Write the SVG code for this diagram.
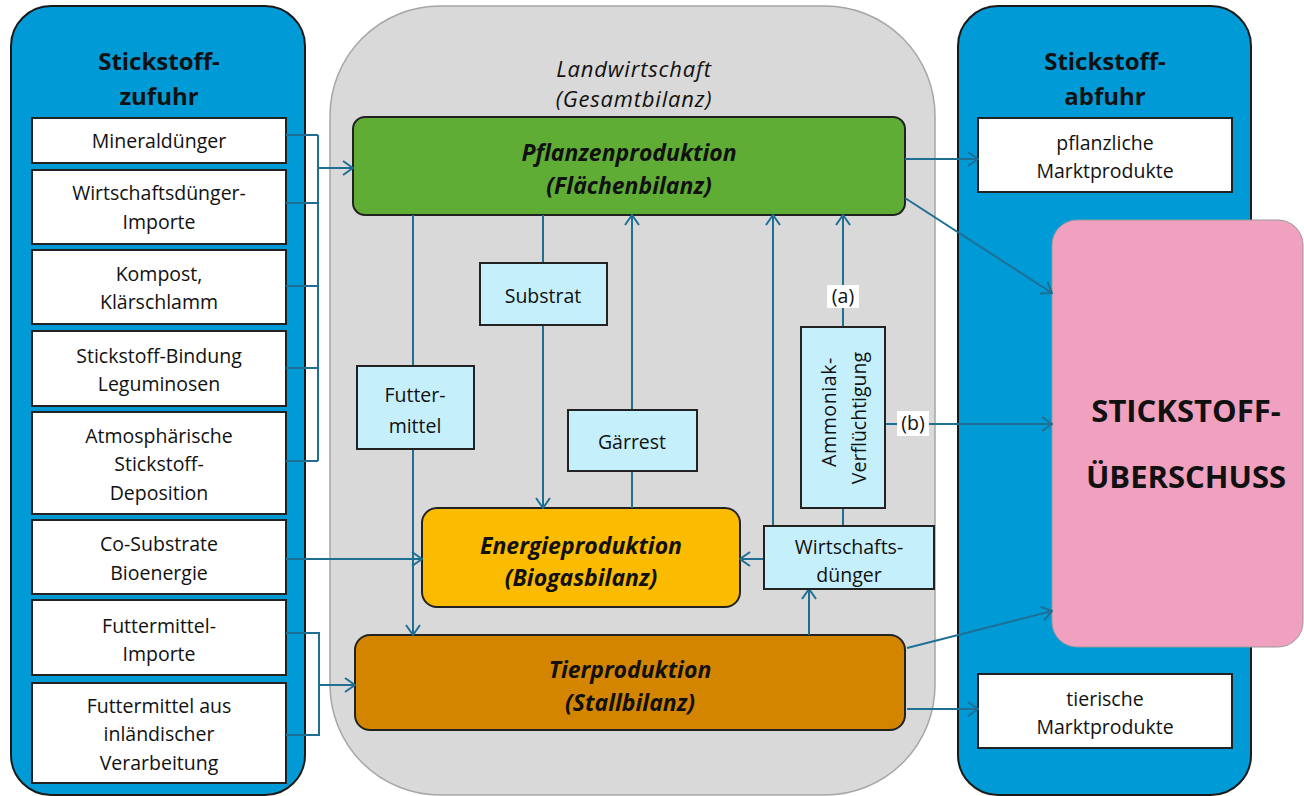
<svg xmlns="http://www.w3.org/2000/svg" width="1304" height="796" viewBox="0 0 1304 796">
<defs>
<marker id="ah" viewBox="0 0 12 16" refX="11" refY="8" markerWidth="12" markerHeight="16" markerUnits="userSpaceOnUse" orient="auto">
<path d="M1,1 L11,8 L1,15" fill="none" stroke="#1f6f95" stroke-width="2"/>
</marker>
<style>
text{font-family:"Open Sans","Noto Sans",sans-serif;fill:#111;text-anchor:middle}
.t{font-size:19.5px}
.h{font-size:24px;font-weight:bold}
.bi{font-size:23px;font-weight:bold;font-style:italic}
.it{font-size:22px;font-style:italic;letter-spacing:0.8px}
.big{font-size:31px;font-weight:bold}
.panel{fill:#009bd6;stroke:#1a1a1a;stroke-width:2}
.wb{fill:#fff;stroke:#222;stroke-width:2}
.lb{fill:#c6effc;stroke:#222;stroke-width:2}
.lbl{fill:#fff;stroke:none}
.c{fill:none;stroke:#1f6f95;stroke-width:2}
.ca{fill:none;stroke:#1f6f95;stroke-width:2;marker-end:url(#ah)}
</style>
</defs>
<rect width="1304" height="796" fill="#fff"/>

<g id="zufuhr">
<rect class="panel" x="11" y="6" width="294" height="789" rx="40"/>
<text class="h" x="159" y="70">Stickstoff-</text>
<text class="h" x="159" y="105">zufuhr</text>
</g>
<g id="abfuhr">
<rect class="panel" x="958" y="6" width="293" height="789" rx="40"/>
<text class="h" x="1105" y="70">Stickstoff-</text>
<text class="h" x="1105" y="105">abfuhr</text>
</g>
<g id="landwirtschaft">
<rect x="330" y="6" width="605" height="789" rx="110" fill="#d9d9d9" stroke="#a6a6a6" stroke-width="1.5"/>
<text class="it" x="634" y="77">Landwirtschaft</text>
<text class="it" x="634" y="107">(Gesamtbilanz)</text>
</g>

<g id="mineralduenger"><rect class="wb" x="32" y="118" width="254" height="45"/><text class="t" x="159" y="148">Mineraldünger</text></g>
<g id="wd-importe"><rect class="wb" x="32" y="170" width="254" height="74"/><text class="t" x="159" y="200">Wirtschaftsdünger-</text><text class="t" x="159" y="229">Importe</text></g>
<g id="kompost"><rect class="wb" x="32" y="250" width="254" height="74"/><text class="t" x="159" y="281">Kompost,</text><text class="t" x="159" y="309">Klärschlamm</text></g>
<g id="bindung"><rect class="wb" x="32" y="331" width="254" height="75"/><text class="t" x="159" y="363">Stickstoff-Bindung</text><text class="t" x="159" y="391">Leguminosen</text></g>
<g id="deposition"><rect class="wb" x="32" y="412" width="254" height="102"/><text class="t" x="159" y="443">Atmosphärische</text><text class="t" x="159" y="471">Stickstoff-</text><text class="t" x="159" y="500">Deposition</text></g>
<g id="cosubstrate"><rect class="wb" x="32" y="520" width="254" height="74"/><text class="t" x="159" y="551">Co-Substrate</text><text class="t" x="159" y="580">Bioenergie</text></g>
<g id="fm-importe"><rect class="wb" x="32" y="600" width="254" height="75"/><text class="t" x="159" y="633">Futtermittel-</text><text class="t" x="159" y="661">Importe</text></g>
<g id="fm-inland"><rect class="wb" x="32" y="683" width="254" height="100"/><text class="t" x="159" y="713">Futtermittel aus</text><text class="t" x="159" y="741">inländischer</text><text class="t" x="159" y="770">Verarbeitung</text></g>

<g id="pflanzlich"><rect class="wb" x="978" y="118" width="254" height="74"/><text class="t" x="1105" y="150">pflanzliche</text><text class="t" x="1105" y="178">Marktprodukte</text></g>
<g id="tierisch"><rect class="wb" x="978" y="674" width="254" height="74"/><text class="t" x="1105" y="706">tierische</text><text class="t" x="1105" y="734">Marktprodukte</text></g>
<g id="ueberschuss"><rect x="1052" y="220" width="251" height="427" rx="25" fill="#f0a1bf" stroke="#999" stroke-width="1"/><text class="big" x="1186" y="422">STICKSTOFF-</text><text class="big" x="1186" y="488">ÜBERSCHUSS</text></g>

<g id="pflanzen"><rect x="353" y="117" width="552" height="98" rx="12" fill="#5fad35" stroke="#222" stroke-width="2"/><text class="bi" x="629" y="161">Pflanzenproduktion</text><text class="bi" x="629" y="194">(Flächenbilanz)</text></g>
<g id="energie"><rect x="422" y="508" width="318" height="99" rx="15" fill="#fbbb00" stroke="#222" stroke-width="2"/><text class="bi" x="581" y="554">Energieproduktion</text><text class="bi" x="581" y="586">(Biogasbilanz)</text></g>
<g id="tier"><rect x="355" y="635" width="550" height="95" rx="15" fill="#d48500" stroke="#222" stroke-width="2"/><text class="bi" x="630" y="678">Tierproduktion</text><text class="bi" x="630" y="711">(Stallbilanz)</text></g>

<g id="connectors">
<path class="c" d="M286,135 H318 M286,203 H318 M286,286 H318 M286,368 H318 M286,461 H318 M318,135 V461"/>
<path class="ca" d="M318,168 H353"/>
<path class="c" d="M286,633 H319 V735 H286"/>
<path class="ca" d="M319,685 H355"/>
<path class="ca" d="M286,559 H422"/>
<path class="c" d="M413,215 V366"/>
<path class="ca" d="M413,449 V635"/>
<path class="c" d="M543,215 V263"/>
<path class="ca" d="M543,325 V508"/>
<path class="c" d="M632,508 V471"/>
<path class="ca" d="M632,410 V215"/>
<path class="ca" d="M773,526 V215"/>
<path class="c" d="M843,526 V508"/>
<path class="ca" d="M843,327 V215"/>
<path class="c" d="M885,424 H897"/>
<path class="ca" d="M928,424 H1052"/>
<path class="ca" d="M764,559 H740"/>
<path class="ca" d="M809,635 V589"/>
<path class="ca" d="M905,159 H978"/>
<path class="ca" d="M905,198 L1052,293"/>
<path class="ca" d="M907,648 L1052,611"/>
<path class="ca" d="M907,709 H978"/>
</g>

<g id="substrat"><rect class="lb" x="480" y="263" width="127" height="62"/><text class="t" x="543" y="303">Substrat</text></g>
<g id="futtermittel"><rect class="lb" x="357" y="366" width="117" height="83"/><text class="t" x="415" y="402">Futter-</text><text class="t" x="415" y="433">mittel</text></g>
<g id="gaerrest"><rect class="lb" x="568" y="410" width="129" height="61"/><text class="t" x="632" y="449">Gärrest</text></g>
<g id="ammoniak"><rect class="lb" x="801" y="327" width="84" height="181"/><text class="t" transform="translate(836,412) rotate(-90)" letter-spacing="0.6">Ammoniak-</text><text class="t" transform="translate(866,418) rotate(-90)">Verflüchtigung</text></g>
<g id="wirtschaftsduenger"><rect class="lb" x="764" y="526" width="170" height="63"/><text class="t" x="849" y="554">Wirtschafts-</text><text class="t" x="849" y="582">dünger</text></g>
<g id="label-a"><rect class="lbl" x="827" y="285" width="32" height="23"/><text class="t" x="843" y="303">(a)</text></g>
<g id="label-b"><rect class="lbl" x="897" y="411" width="32" height="25"/><text class="t" x="913" y="430">(b)</text></g>
</svg>
